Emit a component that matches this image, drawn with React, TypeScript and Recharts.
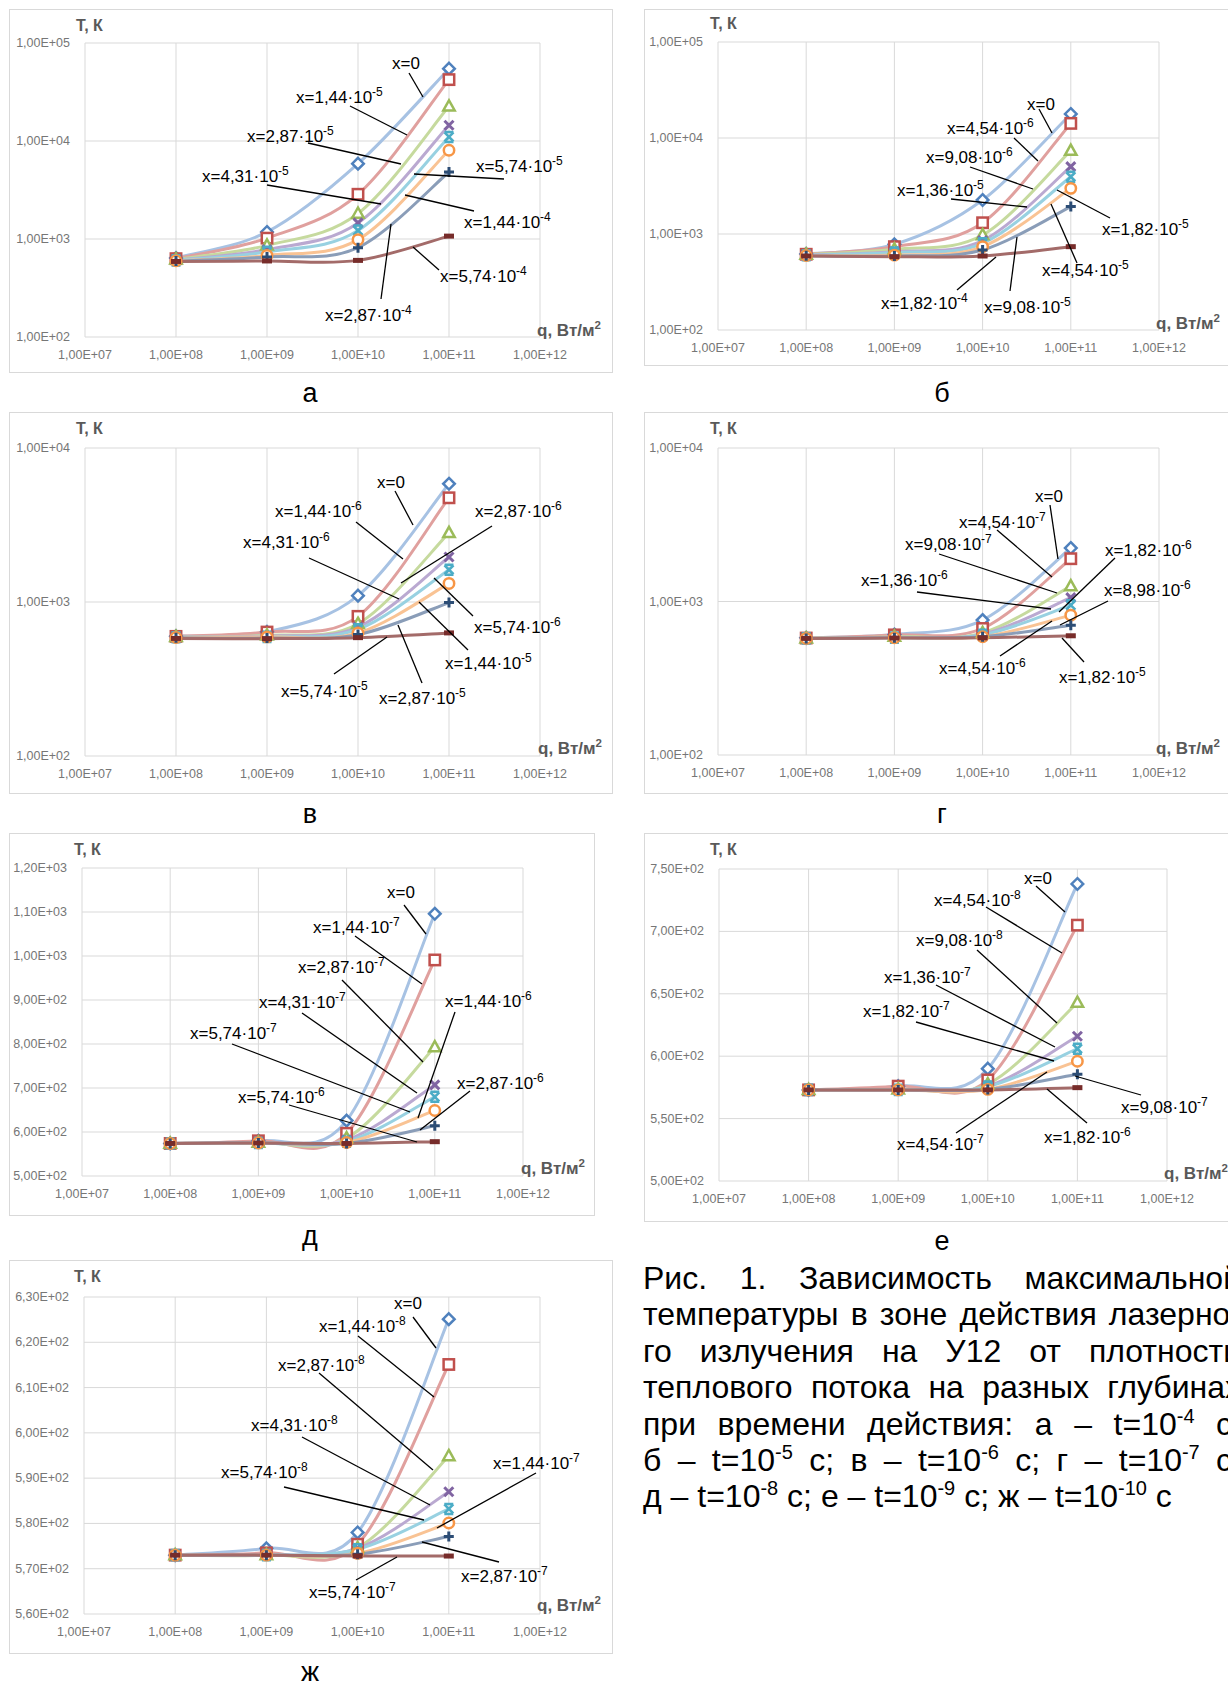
import React from "react";
import { LineChart, Line, XAxis, YAxis, CartesianGrid } from "recharts";

// heat flux density q, W/m2 (same in every panel)
const Q = [1e8, 1e9, 1e10, 1e11];
const X_TICKS = [1e7, 1e8, 1e9, 1e10, 1e11, 1e12];

// max temperature T, K — one row per depth x, columns follow Q
// а) t = 1e-4 s
const T_A = [
  [640, 1180, 5870, 54700],
  [630, 1020, 2860, 42300],
  [620, 860, 1820, 22600],
  [610, 780, 1460, 14500],
  [605, 740, 1220, 11000],
  [600, 680, 985, 8040],
  [595, 655, 816, 4830],
  [590, 597, 605, 1070],
];
const DEPTH_A = [["0", ""], ["1,44", "-5"], ["2,87", "-5"], ["4,31", "-5"], ["5,74", "-5"], ["1,44", "-4"], ["2,87", "-4"], ["5,74", "-4"]];

// б) t = 1e-5 s
const T_B = [
  [620, 780, 2260, 17800],
  [615, 738, 1310, 14200],
  [610, 692, 977, 7380],
  [605, 655, 853, 5030],
  [600, 640, 800, 3950],
  [598, 603, 738, 2990],
  [595, 590, 681, 1930],
  [590, 580, 590, 738],
];
const DEPTH_B = [["0", ""], ["4,54", "-6"], ["9,08", "-6"], ["1,36", "-5"], ["1,82", "-5"], ["4,54", "-5"], ["9,08", "-5"], ["1,82", "-4"]];

// в) t = 1e-6 s
const T_V = [
  [600, 640, 1100, 5860],
  [598, 638, 807, 4750],
  [595, 608, 723, 2810],
  [592, 602, 688, 1960],
  [590, 594, 664, 1620],
  [588, 594, 629, 1320],
  [585, 583, 614, 991],
  [580, 578, 587, 630],
];
const DEPTH_V = [["0", ""], ["1,44", "-6"], ["2,87", "-6"], ["4,31", "-6"], ["5,74", "-6"], ["1,44", "-5"], ["2,87", "-5"], ["5,74", "-5"]];

// г) t = 1e-7 s
const T_G = [
  [580, 610, 757, 2230],
  [578, 606, 667, 1900],
  [576, 590, 625, 1260],
  [575, 585, 610, 1060],
  [575, 582, 606, 946],
  [575, 580, 589, 815],
  [575, 580, 589, 701],
  [575, 578, 580, 598],
];
const DEPTH_G = [["0", ""], ["4,54", "-7"], ["9,08", "-7"], ["1,36", "-6"], ["1,82", "-6"], ["4,54", "-6"], ["8,98", "-6"], ["1,82", "-5"]];

// д) t = 1e-8 s
const T_D = [
  [574, 580, 626, 1096],
  [574, 580, 597, 991],
  [574, 576, 586, 793],
  [574, 576, 582, 707],
  [574, 575, 578, 680],
  [574, 575, 576, 649],
  [574, 575, 574, 614],
  [574, 575, 574, 578],
];
const DEPTH_D = [["0", ""], ["1,44", "-7"], ["2,87", "-7"], ["4,31", "-7"], ["5,74", "-7"], ["1,44", "-6"], ["2,87", "-6"], ["5,74", "-6"]];

// е) t = 1e-9 s
const T_E = [
  [573, 576, 590, 738],
  [573, 576, 581, 705],
  [573, 573.5, 577.7, 643],
  [573, 573, 576, 616],
  [573, 573, 575.6, 606],
  [573, 573, 573.4, 596],
  [573, 573, 573.4, 585.5],
  [573, 573, 573, 574.8],
];
const DEPTH_E = [["0", ""], ["4,54", "-8"], ["9,08", "-8"], ["1,36", "-7"], ["1,82", "-7"], ["4,54", "-7"], ["9,08", "-7"], ["1,82", "-6"]];

// ж) t = 1e-10 s
const T_ZH = [
  [573, 574.5, 578, 625.1],
  [573, 573.5, 575.4, 615.1],
  [573, 573, 574.6, 594.9],
  [573, 573, 574.5, 587],
  [573, 573, 574.3, 583.2],
  [573, 573, 573.4, 580.1],
  [573, 573, 573.2, 577.1],
  [573, 573, 572.8, 572.8],
];
const DEPTH_ZH = [["0", ""], ["1,44", "-8"], ["2,87", "-8"], ["4,31", "-8"], ["5,74", "-8"], ["1,44", "-7"], ["2,87", "-7"], ["5,74", "-7"]];

const Y_LOG_5 = [1e2, 1e3, 1e4, 1e5];
const Y_LOG_4 = [1e2, 1e3, 1e4];
const Y_D = [500, 600, 700, 800, 900, 1000, 1100, 1200];
const Y_E = [500, 550, 600, 650, 700, 750];
const Y_ZH = [560, 570, 580, 590, 600, 610, 620, 630];

// ---------------------------------------------------------------------
// styling (Excel 2010 look)
// ---------------------------------------------------------------------
const SHAPES = ["diamond", "square", "triangle", "x", "star", "circle", "plus", "dash"];
const MARK = ["#4F81BD", "#C0504D", "#9BBB59", "#8064A2", "#4BACC6", "#F79646", "#2C4D75", "#772C2A"];
const LINE = ["#A7C2E3", "#E0A09E", "#C6DA9E", "#BAA9D1", "#98D1E1", "#F9C394", "#8A9DB8", "#A36B69"];
const GRID = "#d9d9d9";
const TICK = "#767676";
const FONT = "'Liberation Sans', Arial, sans-serif";

// Excel-like smoothed line (Catmull-Rom as cubic bezier, 1/6 control arms)
function excelCurve(context: any) {
  let pts: number[][] = [];
  return {
    areaStart() {},
    areaEnd() {},
    lineStart() {
      pts = [];
    },
    point(x: number, y: number) {
      pts.push([+x, +y]);
    },
    lineEnd() {
      const n = pts.length;
      if (!n) return;
      context.moveTo(pts[0][0], pts[0][1]);
      for (let i = 0; i < n - 1; i++) {
        const p0 = pts[i - 1] || pts[i];
        const p1 = pts[i];
        const p2 = pts[i + 1];
        const p3 = pts[i + 2] || p2;
        context.bezierCurveTo(
          p1[0] + (p2[0] - p0[0]) / 6,
          p1[1] + (p2[1] - p0[1]) / 6,
          p2[0] - (p3[0] - p1[0]) / 6,
          p2[1] - (p3[1] - p1[1]) / 6,
          p2[0],
          p2[1]
        );
      }
    },
  };
}

function fmtE(v: number) {
  const [m, e] = v.toExponential(2).split("e");
  const ei = parseInt(e, 10);
  return `${m.replace(".", ",")}E${ei < 0 ? "-" : "+"}${String(Math.abs(ei)).padStart(2, "0")}`;
}

function Marker({ shape, color, cx, cy }: { shape: string; color: string; cx: number; cy: number }) {
  if (cx == null || cy == null || isNaN(cx) || isNaN(cy)) return null;
  const sw = 2.5;
  switch (shape) {
    case "diamond":
      return (
        <polygon
          points={`${cx},${cy - 5.8} ${cx + 5.8},${cy} ${cx},${cy + 5.8} ${cx - 5.8},${cy}`}
          fill="#fff"
          stroke={color}
          strokeWidth={sw}
        />
      );
    case "square":
      return <rect x={cx - 5.2} y={cy - 5.2} width={10.4} height={10.4} fill="#fff" stroke={color} strokeWidth={sw} />;
    case "triangle":
      return (
        <polygon
          points={`${cx},${cy - 6} ${cx + 5.7},${cy + 4.2} ${cx - 5.7},${cy + 4.2}`}
          fill="#fff"
          stroke={color}
          strokeWidth={sw}
        />
      );
    case "x":
      return (
        <path
          d={`M${cx - 4.5},${cy - 4.5}L${cx + 4.5},${cy + 4.5}M${cx + 4.5},${cy - 4.5}L${cx - 4.5},${cy + 4.5}`}
          stroke={color}
          strokeWidth={3}
        />
      );
    case "star":
      return (
        <path
          d={`M${cx - 4.5},${cy - 4.5}L${cx + 4.5},${cy + 4.5}M${cx + 4.5},${cy - 4.5}L${cx - 4.5},${cy + 4.5}M${cx - 4.5},${cy - 5}L${cx + 4.5},${cy - 5}M${cx - 4.5},${cy + 5}L${cx + 4.5},${cy + 5}`}
          stroke={color}
          strokeWidth={2.6}
        />
      );
    case "circle":
      return <circle cx={cx} cy={cy} r={5.2} fill="#fff" stroke={color} strokeWidth={sw} />;
    case "plus":
      return (
        <path d={`M${cx - 5},${cy}L${cx + 5},${cy}M${cx},${cy - 5}L${cx},${cy + 5}`} stroke={color} strokeWidth={3} />
      );
    default:
      return <rect x={cx - 5} y={cy - 2.5} width={10} height={5} fill={color} />;
  }
}

const XTick = ({ x, y, payload }: any) => (
  <text x={x} y={y + 18} textAnchor="middle" dominantBaseline="central" fontSize={12.5} fill={TICK} fontFamily={FONT}>
    {fmtE(payload.value)}
  </text>
);

const YTick = ({ x, y, payload }: any) => (
  <text x={x - 15} y={y} textAnchor="end" dominantBaseline="central" fontSize={12.5} fill={TICK} fontFamily={FONT}>
    {fmtE(payload.value)}
  </text>
);

// ---------------------------------------------------------------------
// layout (page px): panel frame, plot area, titles and callouts
// callout = [text left, text middle, leader x1, y1, x2, y2]
// ---------------------------------------------------------------------
type Panel = {
  id: string;
  letter: string;
  letterAt: number[];
  box: { x: number; y: number; w: number; h: number };
  plot: { l: number; r: number; t: number; b: number };
  log: boolean;
  yTicks: number[];
  T: number[][];
  depth: string[][];
  tTitle: number[];
  qTitle: number[];
  notes: number[][];
};

const PANELS: Panel[] = [
  {
    id: "a", letter: "а", letterAt: [310, 395],
    box: { x: 9, y: 9, w: 604, h: 364 }, plot: { l: 85, r: 540, t: 43, b: 337 },
    log: true, yTicks: Y_LOG_5, T: T_A, depth: DEPTH_A,
    tTitle: [76, 25], qTitle: [537, 330],
    notes: [
      [392, 63, 409, 73, 423, 97],
      [296, 97, 350, 106, 407, 135],
      [247, 136, 308, 143, 401, 164],
      [202, 176, 267, 185, 381, 204],
      [476, 166, 504, 179, 414, 174],
      [464, 222, 474, 211, 405, 195],
      [325, 315, 381, 299, 391, 224],
      [440, 276, 439, 270, 413, 247],
    ],
  },
  {
    id: "b", letter: "б", letterAt: [942, 395],
    box: { x: 644, y: 9, w: 590, h: 357 }, plot: { l: 718, r: 1159, t: 42, b: 330 },
    log: true, yTicks: Y_LOG_5, T: T_B, depth: DEPTH_B,
    tTitle: [710, 23], qTitle: [1156, 323],
    notes: [
      [1027, 104, 1039, 109, 1052, 133],
      [947, 128, 1014, 138, 1038, 161],
      [926, 157, 970, 167, 1033, 189],
      [897, 190, 951, 199, 1027, 207],
      [1102, 229, 1110, 218, 1057, 190],
      [1042, 270, 1077, 263, 1051, 204],
      [984, 307, 1010, 291, 1017, 237],
      [881, 303, 957, 290, 996, 257],
    ],
  },
  {
    id: "v", letter: "в", letterAt: [310, 816],
    box: { x: 9, y: 412, w: 604, h: 382 }, plot: { l: 85, r: 540, t: 448, b: 756 },
    log: true, yTicks: Y_LOG_4, T: T_V, depth: DEPTH_V,
    tTitle: [76, 428], qTitle: [538, 748],
    notes: [
      [377, 482, 395, 491, 413, 525],
      [275, 511, 356, 522, 403, 559],
      [475, 511, 492, 526, 401, 583],
      [243, 542, 309, 558, 399, 599],
      [474, 627, 473, 616, 434, 578],
      [445, 663, 468, 650, 419, 602],
      [379, 698, 422, 683, 398, 625],
      [281, 691, 334, 674, 387, 637],
    ],
  },
  {
    id: "g", letter: "г", letterAt: [942, 816],
    box: { x: 644, y: 412, w: 590, h: 382 }, plot: { l: 718, r: 1159, t: 448, b: 755 },
    log: true, yTicks: Y_LOG_4, T: T_G, depth: DEPTH_G,
    tTitle: [710, 428], qTitle: [1156, 748],
    notes: [
      [1035, 496, 1050, 505, 1058, 559],
      [959, 522, 997, 530, 1052, 577],
      [905, 544, 939, 554, 1057, 593],
      [861, 580, 917, 592, 1051, 609],
      [1105, 550, 1115, 558, 1059, 612],
      [939, 668, 1000, 656, 1052, 621],
      [1104, 590, 1108, 601, 1060, 625],
      [1059, 677, 1084, 662, 1062, 638],
    ],
  },
  {
    id: "d", letter: "д", letterAt: [310, 1238],
    box: { x: 9, y: 833, w: 586, h: 383 }, plot: { l: 82, r: 523, t: 868, b: 1176 },
    log: false, yTicks: Y_D, T: T_D, depth: DEPTH_D,
    tTitle: [74, 849], qTitle: [521, 1168],
    notes: [
      [387, 892, 404, 905, 426, 934],
      [313, 927, 355, 936, 422, 984],
      [298, 967, 342, 980, 423, 1062],
      [259, 1002, 302, 1013, 417, 1093],
      [190, 1033, 232, 1044, 410, 1112],
      [445, 1001, 455, 1012, 418, 1118],
      [457, 1083, 470, 1091, 420, 1130],
      [238, 1097, 289, 1105, 417, 1142],
    ],
  },
  {
    id: "e", letter: "е", letterAt: [942, 1243],
    box: { x: 644, y: 833, w: 590, h: 389 }, plot: { l: 719, r: 1167, t: 869, b: 1181 },
    log: false, yTicks: Y_E, T: T_E, depth: DEPTH_E,
    tTitle: [710, 849], qTitle: [1164, 1173],
    notes: [
      [1024, 878, 1036, 886, 1065, 912],
      [934, 900, 986, 907, 1062, 953],
      [916, 940, 977, 950, 1057, 1023],
      [884, 977, 936, 985, 1055, 1047],
      [863, 1011, 916, 1022, 1054, 1061],
      [897, 1144, 956, 1133, 1047, 1072],
      [1121, 1107, 1141, 1095, 1075, 1076],
      [1044, 1137, 1087, 1123, 1047, 1089],
    ],
  },
  {
    id: "zh", letter: "ж", letterAt: [310, 1674],
    box: { x: 9, y: 1260, w: 604, h: 394 }, plot: { l: 84, r: 540, t: 1297, b: 1614 },
    log: false, yTicks: Y_ZH, T: T_ZH, depth: DEPTH_ZH,
    tTitle: [74, 1276], qTitle: [537, 1605],
    notes: [
      [394, 1303, 413, 1317, 436, 1348],
      [319, 1326, 358, 1336, 434, 1397],
      [278, 1365, 319, 1373, 433, 1470],
      [251, 1425, 302, 1437, 430, 1505],
      [221, 1472, 284, 1487, 424, 1520],
      [493, 1463, 536, 1473, 437, 1528],
      [461, 1576, 499, 1562, 422, 1542],
      [309, 1592, 356, 1580, 397, 1557],
    ],
  },
];

const CAPTION = [
  ["Рис. 1. Зависимость максимальной"],
  ["температуры в зоне действия лазерно-"],
  ["го излучения на У12 от плотности"],
  ["теплового потока на разных глубинах"],
  ["при времени действия: а – t=10", "-4", " с;"],
  ["б – t=10", "-5", " с; в – t=10", "-6", " с; г – t=10", "-7", " с;"],
  ["д – t=10", "-8", " с; е – t=10", "-9", " с; ж – t=10", "-10", " с"],
];

function PanelChart({ p }: { p: Panel }) {
  const rows = Q.map((q, j) => {
    const r: Record<string, number> = { q };
    p.T.forEach((s, i) => (r[`s${i}`] = s[j]));
    return r;
  });
  const { box, plot } = p;
  const yDomain = [p.yTicks[0], p.yTicks[p.yTicks.length - 1]];
  return (
    <div style={{ position: "absolute", left: box.x, top: box.y }}>
      <LineChart
        width={box.w}
        height={box.h}
        data={rows}
        margin={{ top: plot.t - box.y, right: box.x + box.w - plot.r, bottom: 0, left: 0 }}
      >
        <CartesianGrid stroke={GRID} strokeWidth={1} />
        <XAxis
          dataKey="q"
          type="number"
          scale="log"
          domain={[1e7, 1e12]}
          ticks={X_TICKS}
          interval={0}
          allowDataOverflow
          tick={<XTick />}
          tickLine={false}
          tickSize={0}
          tickMargin={0}
          axisLine={false}
          height={box.y + box.h - plot.b}
        />
        <YAxis
          type="number"
          scale={p.log ? "log" : "linear"}
          domain={yDomain}
          ticks={p.yTicks}
          interval={0}
          allowDataOverflow
          tick={<YTick />}
          tickLine={false}
          tickSize={0}
          tickMargin={0}
          axisLine={false}
          width={plot.l - box.x}
        />
        {p.T.map((_, i) => (
          <Line
            key={i}
            dataKey={`s${i}`}
            type={excelCurve as any}
            stroke={LINE[i]}
            strokeWidth={3}
            isAnimationActive={false}
            activeDot={false}
            dot={(d: any) => (
              <Marker key={`${p.id}-${i}-${d.index}`} shape={SHAPES[i]} color={MARK[i]} cx={d.cx} cy={d.cy} />
            )}
          />
        ))}
      </LineChart>
    </div>
  );
}

export default function App() {
  return (
    <div
      style={{
        position: "absolute",
        left: 0,
        top: 0,
        width: 1228,
        height: 1687,
        overflow: "hidden",
        background: "#fff",
        fontFamily: FONT,
      }}
    >
      {PANELS.map((p) => (
        <React.Fragment key={p.id}>
          <div
            style={{
              position: "absolute",
              left: p.box.x,
              top: p.box.y,
              width: p.box.w,
              height: p.box.h,
              border: "1px solid #d9d9d9",
              boxSizing: "border-box",
            }}
          />
          <PanelChart p={p} />
        </React.Fragment>
      ))}

      <svg width={1228} height={1687} style={{ position: "absolute", left: 0, top: 0, pointerEvents: "none" }}>
        {PANELS.map((p) => (
          <g key={p.id} fontFamily={FONT}>
            <text x={p.letterAt[0]} y={p.letterAt[1] + 7} fontSize={27} textAnchor="middle" fill="#000">
              {p.letter}
            </text>
            <text x={p.tTitle[0]} y={p.tTitle[1] + 6} fontSize={16} fontWeight="bold" fill="#595959">
              Т, К
            </text>
            <text x={p.qTitle[0]} y={p.qTitle[1] + 6} fontSize={17} fontWeight="bold" fill="#595959">
              q, Вт/м<tspan fontSize={11.5} dy={-7}>2</tspan>
            </text>
            {p.notes.map((n, i) => {
              const [m, e] = p.depth[i];
              return (
                <g key={i}>
                  <line x1={n[2]} y1={n[3]} x2={n[4]} y2={n[5]} stroke="#000" strokeWidth={1.3} />
                  <text x={n[0]} y={n[1] + 6} fontSize={17} fill="#000">
                    {e ? `x=${m}·10` : `x=${m}`}
                    {e ? (
                      <tspan fontSize={12} dy={-7}>
                        {e}
                      </tspan>
                    ) : null}
                  </text>
                </g>
              );
            })}
          </g>
        ))}
      </svg>

      {CAPTION.map((parts, i) => {
        const last = i === CAPTION.length - 1;
        return (
          <div
            key={i}
            style={{
              position: "absolute",
              left: 643,
              top: 1260 + i * 36.4,
              width: 598,
              fontSize: 32,
              lineHeight: "36px",
              color: "#000",
              whiteSpace: last ? "nowrap" : "normal",
              textAlign: last ? "left" : "justify",
              textAlignLast: last ? "left" : "justify",
            }}
          >
            {parts.map((t, k) =>
              k % 2 === 1 ? (
                <sup key={k} style={{ fontSize: 20, lineHeight: 0 }}>
                  {t}
                </sup>
              ) : (
                <span key={k}>{t}</span>
              )
            )}
          </div>
        );
      })}
    </div>
  );
}
